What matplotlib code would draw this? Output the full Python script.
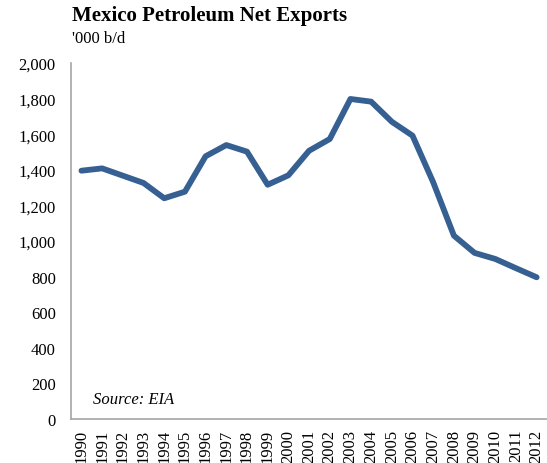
import matplotlib.pyplot as plt
from matplotlib.ticker import FuncFormatter

years = [str(y) for y in range(1990, 2013)]
exports = [1395, 1408, 1367, 1326, 1240, 1277, 1476, 1539, 1502, 1316, 1369,
           1507, 1573, 1798, 1783, 1670, 1592, 1330, 1030, 933, 899, 847, 796]

plt.rcParams['font.family'] = ['Liberation Serif', 'DejaVu Serif']

fig = plt.figure(figsize=(5.47, 4.64), dpi=100)
ax = fig.add_axes([0.130, 0.095, 0.870, 0.767])

x = list(range(len(years)))
ax.plot(x, exports, color='#366092', linewidth=4.2, solid_capstyle='round',
        solid_joinstyle='round')

ax.set_xlim(-0.5, len(years) - 0.5)
ax.set_ylim(0, 2000)
ax.set_yticks(range(0, 2001, 200))
ax.yaxis.set_major_formatter(FuncFormatter(lambda v, p: f'{int(v):,}'))
ax.set_xticks(x)
ax.set_xticklabels(years, rotation=90)
ax.tick_params(axis='both', length=0, labelsize=12)
ax.tick_params(axis='y', pad=11)
ax.tick_params(axis='x', pad=7)

for s in ['top', 'right']:
    ax.spines[s].set_visible(False)
for s in ['left', 'bottom']:
    ax.spines[s].set_color('#A6A6A6')
    ax.spines[s].set_linewidth(1.2)

fig.text(0.131, 0.966, 'Mexico Petroleum Net Exports', fontsize=15,
         fontweight='bold', ha='left', va='center')
fig.text(0.131, 0.916, "'000 b/d", fontsize=12, ha='left', va='center')
ax.text(0.046, 0.056, 'Source: EIA', transform=ax.transAxes, fontsize=12,
        style='italic', ha='left', va='center')

fig.savefig('out.png', dpi=100)
